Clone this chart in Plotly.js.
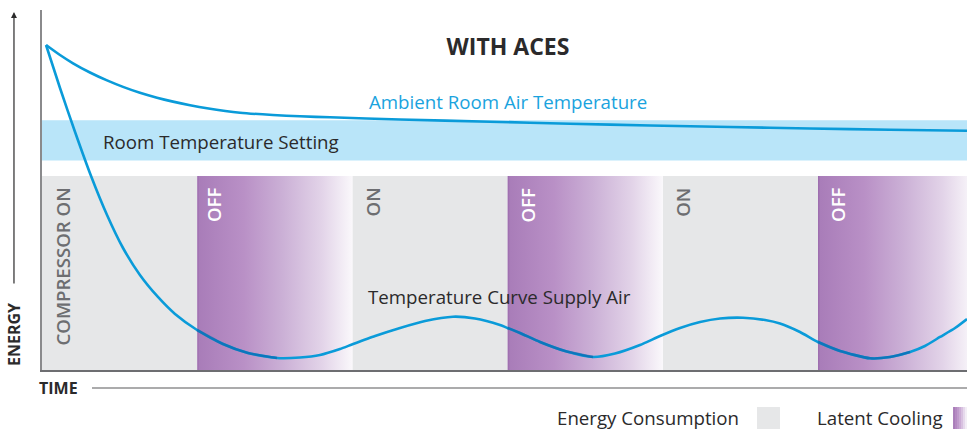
<!DOCTYPE html>
<html>
<head>
<meta charset="utf-8">
<script src="https://cdn.plot.ly/plotly-3.0.1.min.js"></script>
<style>
  html, body { margin: 0; padding: 0; background: #ffffff; }
  #chart { width: 967px; height: 429px; }
</style>
</head>
<body>
<div id="chart"></div>
<script>
// ---- Data ----
// Time axis: each compressor phase lasts 10 time units
const segStart = [0, 10, 20, 30, 40, 50];
const segEnd   = [10, 20, 30, 40, 50, 59.6];
const segState = ['on', 'off', 'on', 'off', 'on', 'off'];
const segLabel = ['COMPRESSOR ON', 'OFF', 'ON', 'OFF', 'ON', 'OFF'];

// Room temperature setting band (energy units)
const bandLow = 58.2;
const bandHigh = 69.4;
// Height of the compressor state blocks
const blockTop = 53.9;

// Ambient Room Air Temperature curve
const ambientX = [0.26, 1.16, 2.00, 3.09, 4.19, 5.22, 6.31, 7.41, 8.44, 9.54, 10.63, 12.76, 14.88,
                  16.62, 18.56, 23.07, 28.87, 34.02, 39.18, 44.33, 49.48, 54.64, 59.6];
const ambientY = [90.28, 87.50, 85.19, 82.64, 80.44, 78.64, 77.00, 75.63, 74.55, 73.56, 72.72, 71.47, 70.83,
                  70.47, 70.19, 69.58, 68.97, 68.42, 67.92, 67.50, 67.08, 66.75, 66.47];

// Temperature Curve Supply Air
const supplyX = [0.26, 1.16, 2.13, 3.16, 4.19, 5.22, 6.31, 7.47, 8.57, 9.99, 11.66, 13.27, 15.14,
                 16.62, 17.91, 19.20, 19.97, 21.46, 23.07, 24.68, 26.48, 27.90, 29.51, 30.00, 30.80,
                 32.09, 33.70, 35.50, 36.92, 38.53, 39.82, 41.11, 42.40, 43.69, 45.17, 46.59, 47.55,
                 48.84, 50.00, 51.42, 53.35, 54.64, 55.93, 56.89, 57.86, 58.83, 59.60];
const supplyY = [90.28, 78.33, 66.11, 53.89, 43.06, 33.89, 26.39, 20.28, 15.56, 11.11, 7.22, 4.72, 3.33,
                 3.47, 4.17, 5.83, 7.08, 9.44, 11.67, 13.61, 14.81, 14.31, 12.50, 11.67, 10.28,
                 7.78, 5.28, 3.61, 4.58, 6.94, 9.44, 11.67, 13.33, 14.31, 14.53, 13.89, 12.92,
                 10.56, 7.78, 5.28, 3.25, 3.61, 5.00, 6.67, 9.17, 11.67, 14.17];

// Legend entries
const legendNames = ['Energy Consumption', 'Latent Cooling'];

// ---- Styles ----
const lineBlue = '#0a9bd9';
const lineDark = '#0b5fa9';
const bandBlue = '#b9e5f9';
const grayFill = '#e6e7e8';
const purpleScale = [[0, '#9a69ab'], [0.015, '#a97db9'], [0.3, '#b990c6'], [0.55, '#cbb0d6'], [0.8, '#e2d3e8'], [1, '#faf8fb']];
const textDark = '#2b2a2b';
const labelGray = '#6d6e71';
const fs = 18.7;

const traces = [];
const shapes = [];
const annotations = [];

// band
shapes.push({type: 'rect', xref: 'x', yref: 'y', x0: 0, x1: 59.6, y0: bandLow, y1: bandHigh,
             fillcolor: bandBlue, line: {width: 0}, layer: 'below'});

// compressor blocks
for (let i = 0; i < segStart.length; i++) {
  if (segState[i] === 'on') {
    shapes.push({type: 'rect', xref: 'x', yref: 'y', x0: segStart[i], x1: segEnd[i], y0: 0, y1: blockTop,
                 fillcolor: grayFill, line: {width: 0}, layer: 'below'});
  } else {
    traces.push({
      type: 'scatter', mode: 'lines',
      x: [segStart[i], segEnd[i], segEnd[i], segStart[i], segStart[i]],
      y: [0, 0, blockTop, blockTop, 0],
      fill: 'toself',
      fillgradient: {type: 'horizontal', colorscale: purpleScale, start: segStart[i], stop: segStart[i] + 10},
      line: {width: 0}, hoverinfo: 'skip', showlegend: false
    });
  }
  const isOff = segState[i] === 'off';
  annotations.push({
    xref: 'x', yref: 'y', x: segStart[i] + (i === 1 ? 1.1 : 1.3), y: blockTop - 2.6,
    text: segLabel[i], showarrow: false, textangle: -90,
    xanchor: 'center', yanchor: 'top',
    font: {family: 'Open Sans', size: 18.6, weight: 600, color: isOff ? '#ffffff' : labelGray}
  });
}

// curves
traces.push({type: 'scatter', mode: 'lines', x: ambientX, y: ambientY,
             line: {color: lineBlue, width: 2.6, shape: 'spline', smoothing: 0.6}, hoverinfo: 'skip', showlegend: false});
traces.push({type: 'scatter', mode: 'lines', x: supplyX, y: supplyY,
             line: {color: lineBlue, width: 2.6, shape: 'spline', smoothing: 0.6}, hoverinfo: 'skip', showlegend: false});

// darker look of the supply curve where it crosses the deep part of the latent-cooling blocks
const darkY = supplyX.map((x, j) => {
  for (let i = 0; i < segStart.length; i++) {
    if (segState[i] === 'off' && x >= segStart[i] - 0.05 && x <= segStart[i] + 6.3) return supplyY[j];
  }
  return null;
});
traces.push({type: 'scatter', mode: 'lines', x: supplyX, y: darkY, connectgaps: false, opacity: 0.6,
             line: {color: lineDark, width: 2.6, shape: 'spline', smoothing: 0.6}, hoverinfo: 'skip', showlegend: false});

// curve labels
annotations.push({xref: 'x', yref: 'y', x: 30.0, y: 74.7, text: 'Ambient Room Air Temperature', showarrow: false,
                  xanchor: 'center', yanchor: 'middle', font: {family: 'Open Sans', size: fs, color: '#1aa3de'}});
annotations.push({xref: 'x', yref: 'y', x: 3.80, y: 63.6, text: 'Room Temperature Setting', showarrow: false,
                  xanchor: 'left', yanchor: 'middle', font: {family: 'Open Sans', size: fs, color: textDark}});
annotations.push({xref: 'x', yref: 'y', x: 20.85, y: 20.3, text: 'Temperature Curve Supply Air', showarrow: false,
                  xanchor: 'left', yanchor: 'middle', font: {family: 'Open Sans', size: fs, color: textDark}});

// axis labels & arrows (outside plot)
annotations.push({xref: 'paper', yref: 'paper', x: -0.0303, y: 0.9944, ax: 0, ay: 273, axref: 'pixel', ayref: 'pixel',
                  text: '', showarrow: true, arrowhead: 2, arrowsize: 1, arrowwidth: 1.2, arrowcolor: textDark});
annotations.push({xref: 'paper', yref: 'paper', x: -0.0303, y: 0.10, text: '<b>ENERGY</b>', showarrow: false,
                  textangle: -90, xanchor: 'center', yanchor: 'middle', font: {family: 'Open Sans', size: 16, color: textDark}});
annotations.push({xref: 'paper', yref: 'paper', x: 0.0173, y: -0.05, text: '<b>TIME</b>', showarrow: false,
                  xanchor: 'center', yanchor: 'middle', font: {family: 'Open Sans', size: 16, color: textDark}});
shapes.push({type: 'line', xref: 'paper', yref: 'paper', x0: 0.054, x1: 1, y0: -0.05, y1: -0.05,
             line: {color: '#58595b', width: 1.2}});

// legend
annotations.push({xref: 'paper', yref: 'paper', x: 0.7557, y: -0.1333, text: legendNames[0], showarrow: false,
                  xanchor: 'right', yanchor: 'middle', font: {family: 'Open Sans', size: fs, color: textDark}});
annotations.push({xref: 'paper', yref: 'paper', x: 0.9762, y: -0.1333, text: legendNames[1], showarrow: false,
                  xanchor: 'right', yanchor: 'middle', font: {family: 'Open Sans', size: fs, color: textDark}});
shapes.push({type: 'rect', xref: 'paper', yref: 'paper', x0: 0.773, x1: 0.7978, y0: -0.1639, y1: -0.1028,
             fillcolor: grayFill, line: {width: 0}});
// latent cooling swatch as gradient strips
const swatchColors = ['#a97db9', '#b48ac2', '#bf9acb', '#cbacd5', '#d8c1e0', '#e6d9ec', '#f3eef6'];
const sw0 = 0.9849, sw1 = 1.0;
for (let k = 0; k < swatchColors.length; k++) {
  const w = (sw1 - sw0) / swatchColors.length;
  shapes.push({type: 'rect', xref: 'paper', yref: 'paper', x0: sw0 + k * w, x1: sw0 + (k + 1) * w + 0.0005,
               y0: -0.1639, y1: -0.1028, fillcolor: swatchColors[k], line: {width: 0}});
}

const layout = {
  width: 967, height: 429,
  margin: {l: 42, r: 0, t: 10, b: 59, pad: 0},
  paper_bgcolor: '#ffffff', plot_bgcolor: '#ffffff',
  title: {text: '<b>WITH ACES</b>', x: 508 / 967, y: 1 - 47 / 429, xref: 'container', yref: 'container',
          xanchor: 'center', yanchor: 'middle', font: {family: 'Open Sans', size: 23, color: textDark}},
  xaxis: {range: [0, 59.6], showgrid: false, zeroline: false, showticklabels: false, ticks: '',
          showline: true, linecolor: '#6d6e71', linewidth: 2, fixedrange: true},
  yaxis: {range: [0, 100], showgrid: false, zeroline: false, showticklabels: false, ticks: '',
          showline: true, linecolor: '#8a8a8c', linewidth: 2, fixedrange: true},
  shapes: shapes,
  annotations: annotations,
  showlegend: false,
  hovermode: false,
  font: {family: 'Open Sans'}
};

Plotly.newPlot('chart', traces, layout, {displayModeBar: false, staticPlot: true});
</script>
</body>
</html>
